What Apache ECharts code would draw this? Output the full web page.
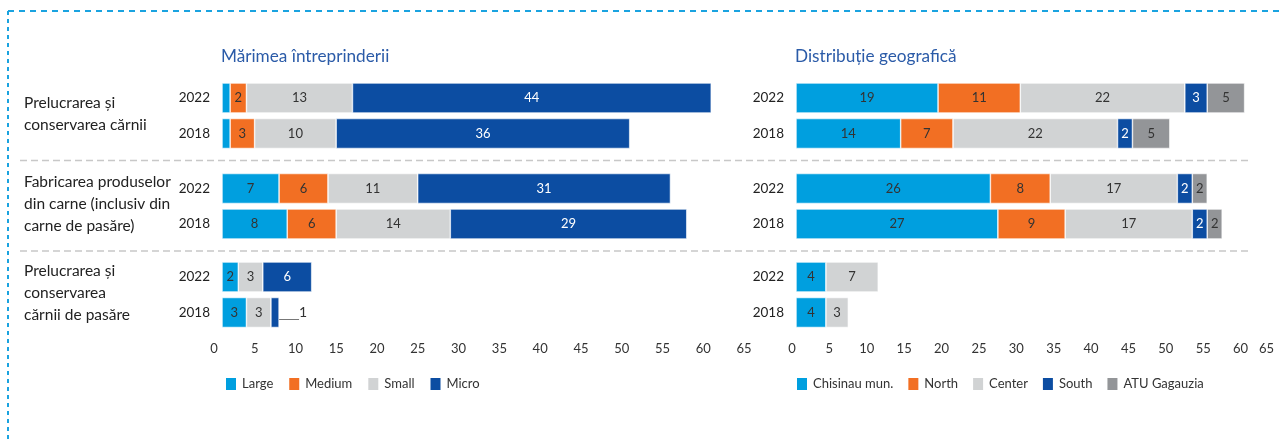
<!DOCTYPE html>
<html>
<head>
<meta charset="utf-8">
<script src="https://cdn.jsdelivr.net/npm/echarts@6/dist/echarts.min.js"></script>
<style>
html,body{margin:0;padding:0;background:#fff;}
#chart{width:1282px;height:439px;}
</style>
</head>
<body>
<div id="chart"></div>
<script>
// ---------- DATA ----------
const years = ['2022', '2018'];
const groupLabels = [
  'Prelucrarea și\nconservarea cărnii',
  'Fabricarea produselor\ndin carne (inclusiv din\ncarne de pasăre)',
  'Prelucrarea și\nconservarea\ncărnii de pasăre'
];
const chartTitles = ['Mărimea întreprinderii', 'Distribuție geografică'];
const xTickMin = 0, xTickMax = 65, xTickStep = 5;

// size of enterprise: per group [2022, 2018]
const sizeNames = ['Large', 'Medium', 'Small', 'Micro'];
const large  = [[1, 1], [7, 8], [2, 3]];
const medium = [[2, 3], [6, 6], [0, 0]];
const small  = [[13, 10], [11, 14], [3, 3]];
const micro  = [[44, 36], [31, 29], [6, 1]];

// geographic distribution: per group [2022, 2018]
const regionNames = ['Chisinau mun.', 'North', 'Center', 'South', 'ATU Gagauzia'];
const chisinau  = [[19, 14], [26, 27], [4, 4]];
const north     = [[11, 7], [8, 9], [0, 0]];
const center    = [[22, 22], [17, 17], [7, 3]];
const south     = [[3, 2], [2, 2], [0, 0]];
const gagauzia  = [[5, 5], [2, 2], [0, 0]];

// ---------- STYLE ----------
const FONT = 'Lato';
const colLightBlue = '#009fdf', colOrange = '#f26f23', colLightGray = '#d1d3d4',
      colDarkBlue = '#0c4da2', colGray = '#939598';
const sizeColors = [colLightBlue, colOrange, colLightGray, colDarkBlue];
const regionColors = [colLightBlue, colOrange, colLightGray, colDarkBlue, colGray];
const sizeLabelColors = ['#333', '#333', '#333', '#fff'];
const regionLabelColors = ['#333', '#333', '#333', '#fff', '#333'];

const charts = [
  { names: sizeNames, values: [large, medium, small, micro], colors: sizeColors, labelColors: sizeLabelColors,
    left: 222, width: 530, labelPad: 16 },
  { names: regionNames, values: [chisinau, north, center, south, gagauzia], colors: regionColors, labelColors: regionLabelColors,
    left: 796, width: 486, labelPad: 8 }
];
const groupTops = [80.25, 170.75, 259.25];
const groupHeight = 71;

const grids = [], xAxes = [], yAxes = [], series = [];
charts.forEach((c, ci) => {
  groupTops.forEach((top, gi) => {
    const idx = ci * 3 + gi;
    grids.push({ left: c.left, width: c.width, top: top, height: groupHeight, containLabel: false });
    xAxes.push({
      gridIndex: idx, type: 'value', min: xTickMin, max: xTickMax, interval: xTickStep,
      axisLine: { show: false }, axisTick: { show: false }, splitLine: { show: false },
      axisLabel: {
        show: gi === 2, fontFamily: FONT, fontSize: 13, color: '#333', margin: 12,
        padding: [0, c.labelPad, 0, 0], showMaxLabel: true,
        alignMaxLabel: ci === 1 ? 'right' : null
      }
    });
    yAxes.push({
      gridIndex: idx, type: 'category', data: years, inverse: true,
      axisLine: { show: false }, axisTick: { show: false }, splitLine: { show: false },
      axisLabel: { fontFamily: FONT, fontSize: 13.5, color: '#222', margin: 12 }
    });
    c.names.forEach((name, k) => {
      const vals = c.values[k][gi];
      series.push({
        type: 'bar', name: name, stack: 's' + idx, xAxisIndex: idx, yAxisIndex: idx,
        barWidth: 30,
        itemStyle: { color: c.colors[k], borderColor: '#fff', borderWidth: 0.6 },
        label: {
          show: true, position: 'inside', fontFamily: FONT, fontSize: 13, color: c.labelColors[k],
          formatter: p => (p.value >= 2 ? String(p.value) : '')
        },
        data: vals.map(v => {
          if (v === 1 && k === c.names.length - 1 && ci === 0) {
            // tiny bar: label outside with guide line
            return {
              value: v,
              label: { show: true, position: 'right', distance: 20, color: '#333', fontSize: 14,
                       formatter: p => String(p.value) },
              labelLine: { show: true, lineStyle: { color: '#777', width: 1 } }
            };
          }
          return v === 0 ? { value: v, label: { show: false }, itemStyle: { borderWidth: 0 } } : v;
        })
      });
    });
  });
});

const chart = echarts.init(document.getElementById('chart'), null, { renderer: 'canvas' });

const graphics = [
  // outer dashed frame (top and left)
  { type: 'line', shape: { x1: 8, y1: 11, x2: 1282, y2: 11 }, style: { stroke: '#1aa3e0', lineWidth: 2, lineDash: [6, 5] }, silent: true },
  { type: 'line', shape: { x1: 8, y1: 11, x2: 8, y2: 439 }, style: { stroke: '#1aa3e0', lineWidth: 2, lineDash: [4, 4] }, silent: true },
  // group separators
  { type: 'line', shape: { x1: 20, y1: 160.5, x2: 1250, y2: 160.5 }, style: { stroke: '#c8c8c8', lineWidth: 1.5, lineDash: [7, 4] }, silent: true },
  { type: 'line', shape: { x1: 20, y1: 251, x2: 1250, y2: 251 }, style: { stroke: '#c8c8c8', lineWidth: 1.5, lineDash: [7, 4] }, silent: true }
];
groupLabels.forEach((t, gi) => {
  graphics.push({
    type: 'text', left: 24, top: groupTops[gi] + groupHeight / 2 - (t.split('\n').length * 22) / 2 - 2,
    style: { text: t, font: '15.5px ' + FONT, fill: '#222', lineHeight: 22 }, silent: true
  });
});

chart.setOption({
  animation: false,
  textStyle: { fontFamily: FONT },
  title: [
    { text: chartTitles[0], left: 221, top: 48, padding: 0, textStyle: { fontFamily: FONT, fontSize: 17.2, fontWeight: 'normal', color: '#2b5ba8' } },
    { text: chartTitles[1], left: 795, top: 48, padding: 0, textStyle: { fontFamily: FONT, fontSize: 17.2, fontWeight: 'normal', color: '#2b5ba8' } }
  ],
  legend: [
    { data: sizeNames, left: 224, top: 376, padding: 0, icon: 'rect', itemWidth: 12, itemHeight: 14, itemGap: 14,
      textStyle: { fontFamily: FONT, fontSize: 13, color: '#333' } },
    { data: regionNames, left: 795, top: 376, padding: 0, icon: 'rect', itemWidth: 12, itemHeight: 14, itemGap: 13,
      textStyle: { fontFamily: FONT, fontSize: 13, color: '#333' } }
  ],
  grid: grids,
  xAxis: xAxes,
  yAxis: yAxes,
  series: series,
  graphic: graphics
});
</script>
</body>
</html>
